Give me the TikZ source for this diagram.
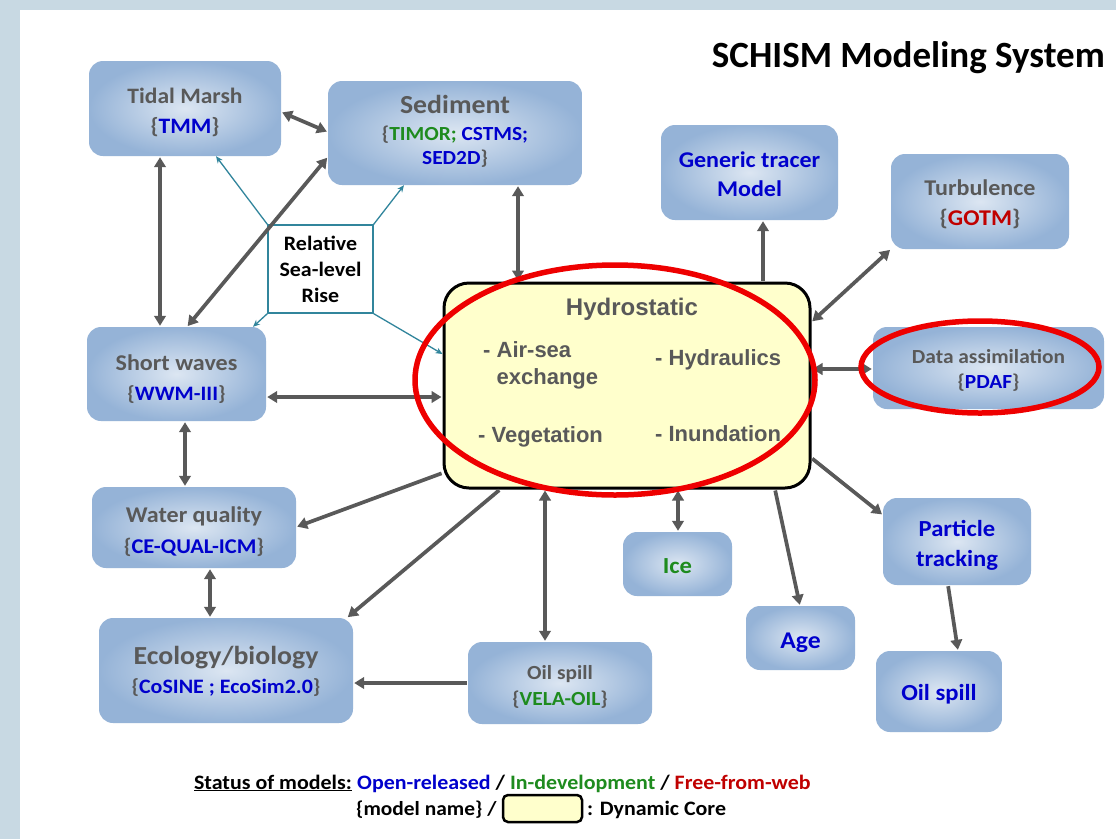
\documentclass[tikz,border=0pt]{standalone}
\usepackage{fontspec}
\setmainfont{Carlito}[FakeStretch=1.07]
\newfontfamily\ttl{Carlito}
\newfontfamily\arl{Liberation Sans}
\usetikzlibrary{arrows.meta,calc}
\definecolor{bg}{HTML}{C8D9E3}
\definecolor{boxin}{HTML}{DCE6F2}
\definecolor{boxout}{HTML}{95B3D7}
\definecolor{tgray}{HTML}{595959}
\definecolor{mblue}{HTML}{0000CC}
\definecolor{mgreen}{HTML}{1E8B1E}
\definecolor{mred}{HTML}{C00000}
\definecolor{agray}{HTML}{595959}
\definecolor{teal2}{HTML}{31859C}
\definecolor{coref}{HTML}{FFFFCC}
\definecolor{ringc}{HTML}{EE0000}
\newcommand\fs[2]{\fontsize{#1}{#2}\selectfont}
\begin{document}
\begin{tikzpicture}[x=1pt,y=-1pt,
 mbox/.style={rounded corners=14pt, inner color=boxin, outer color=boxout, inner sep=0pt},
 lbl/.style={align=center, text=tgray, inner sep=0pt},
 conn/.style={draw=agray, line width=3.7pt, shorten >=1pt, shorten <=1pt},
 dbl/.style={conn, {Triangle[length=10pt,width=11.5pt]}-{Triangle[length=10pt,width=11.5pt]}},
 sgl/.style={conn, -{Triangle[length=10pt,width=11.5pt]}},
 slr/.style={draw=teal2, line width=1.3pt, -{Stealth[length=7pt,width=6pt]}},
 ringe/.style={draw=ringc, line width=5.5pt},
 txt/.style={inner sep=0pt, font=\arl\bfseries\fs{22}{27}, text=tgray, align=left},
 leg/.style={inner sep=0pt, font=\bfseries\fs{20.5}{24}, text=black}
]
\useasboundingbox (0,0) rectangle (1116,839);
\fill[bg] (0,0) rectangle (1116,839);
\fill[white] (20,10) rectangle (1116,839);

\node[font=\ttl\bfseries\fs{37}{40}, anchor=east, inner sep=0pt] (title) at (1105,58) {SCHISM Modeling System};

% boxes
\node[mbox, minimum width=192pt, minimum height=95pt] (tm) at (185,108.5) {};
\node[mbox, minimum width=254pt, minimum height=104pt] (sed) at (455,133) {};
\node[mbox, minimum width=177pt, minimum height=95pt] (gen) at (749.5,172.5) {};
\node[mbox, minimum width=178pt, minimum height=95pt] (turb) at (980,201.5) {};
\node[mbox, minimum width=231pt, minimum height=82pt] (da) at (988.5,368) {};
\node[mbox, minimum width=179pt, minimum height=94pt] (sw) at (176.5,374) {};
\node[mbox, minimum width=204pt, minimum height=81pt] (wq) at (194,527.5) {};
\node[mbox, minimum width=254pt, minimum height=105pt] (eco) at (226,670.5) {};
\node[mbox, minimum width=184pt, minimum height=82pt] (oil) at (560,683) {};
\node[mbox, minimum width=109pt, minimum height=64pt] (ice) at (677.5,564) {};
\node[mbox, minimum width=109pt, minimum height=64pt] (age) at (800.5,638) {};
\node[mbox, minimum width=148pt, minimum height=87pt] (pt) at (957,541.5) {};
\node[mbox, minimum width=126pt, minimum height=81pt] (oiltwo) at (939,691.5) {};
\node[draw=teal2, line width=1.3pt, fill=white, minimum width=105pt, minimum height=88pt, inner sep=0pt, align=center, font=\bfseries\fs{20.5}{26}] (rslr) at (320.5,269) {Relative\\Sea-level\\Rise};
\node[draw=black, line width=3pt, fill=coref, rounded corners=25pt, minimum width=366pt, minimum height=205pt] (core) at (627,385.5) {};

% box labels
\node[lbl, font=\bfseries\fs{22}{30}] (tmt) at ([yshift=-4pt]tm.center) {Tidal Marsh\\\{\textcolor{mblue}{TMM}\}};
\node[lbl, font=\bfseries\fs{20}{24}] (sedt) at ([yshift=1.5pt]sed.center) {{\fs{26}{30}Sediment}\\[3pt]\{\textcolor{mgreen}{TIMOR;} \textcolor{mblue}{CSTMS;}\\\textcolor{mblue}{SED2D}\}};
\node[lbl, font=\bfseries\fs{22.5}{29}, text=mblue] (gent) at ([yshift=-2pt]gen.center) {Generic tracer\\Model};
\node[lbl, font=\bfseries\fs{22.5}{30}] (turbt) at ([yshift=-3pt]turb.center) {Turbulence\\\{\textcolor{mred}{GOTM}\}};
\node[lbl, font=\bfseries\fs{20}{25}] (dat) at ([yshift=-2pt]da.center) {Data assimilation\\\{\textcolor{mblue}{PDAF}\}};
\node[lbl, font=\bfseries\fs{22.5}{30}] (swt) at ([yshift=-5pt]sw.center) {Short waves\\{\fs{20.5}{30}\{\textcolor{mblue}{WWM-III}\}}};
\node[lbl, font=\bfseries\fs{22.5}{31}] (wqt) at ([yshift=-4pt]wq.center) {Water quality\\{\fs{21}{31}\{\textcolor{mblue}{CE-QUAL-ICM}\}}};
\node[lbl, font=\bfseries\fs{20.5}{29}] (ecot) at ([yshift=-0.5pt]eco.center) {{\fs{26}{30}Ecology/biology}\\\{\textcolor{mblue}{CoSINE ; EcoSim2.0}\}};
\node[lbl, font=\bfseries\fs{20}{26}] (oilt) at ([yshift=-3.5pt]oil.center) {Oil spill\\\{\textcolor{mgreen}{VELA-OIL}\}};
\node[lbl, font=\bfseries\fs{23}{28}, text=mgreen] (icet) at ([yshift=-2pt]ice.center) {Ice};
\node[lbl, font=\bfseries\fs{24}{28}, text=mblue] (aget) at ([yshift=-5pt]age.center) {Age};
\node[lbl, font=\bfseries\fs{23}{30}, text=mblue] (ptt) at ([yshift=-4pt]pt.center) {Particle\\tracking};
\node[lbl, font=\bfseries\fs{23}{28}, text=mblue] (oiltwot) at ([yshift=-3pt]oiltwo.center) {Oil spill};

% core texts
\node[txt, font=\arl\bfseries\fs{24}{27}] (hyd) at (632,309) {Hydrostatic};
\node[txt, anchor=west] (air) at (483,365.5) {- Air-sea\\\phantom{- }exchange};
\node[txt, anchor=west] (hydr) at (655,360) {- Hydraulics};
\node[txt, anchor=west] (veg) at (478,437) {- Vegetation};
\node[txt, anchor=west] (inun) at (655,434) {- Inundation};

% sea level rise arrows
\draw[slr] (rslr.north west) -- (tm.south -| 216,0);
\draw[slr] (rslr.north east) -- (sed.south -| 404,0);
\draw[slr] (rslr.south west) -- (sw.north -| 253,0);
\draw[slr] (rslr.south east) -- (core.west |- 0,354);

% connectors
\draw[dbl] ([yshift=-3.5pt]tm.east) -- ([yshift=1pt]sed.west);
\draw[dbl] (tm.south -| 160,0) -- (sw.north -| 160,0);
\draw[dbl] (sw.north -| 187,0) -- (sed.west |- 0,157);
\draw[dbl] (sed.south -| 518,0) -- (core.north -| 518,0);
\draw[dbl] (sw.east |- 0,397) -- (core.west |- 0,397);
\draw[dbl] (sw.south -| 185,0) -- (wq.north -| 185,0);
\draw[dbl] (wq.south -| 210,0) -- (eco.north -| 210,0);
\draw[sgl] (core.west |- 0,473) -- (wq.east |- 0,527);
\draw[sgl] (core.south -| 500,0) -- (eco.north -| 347,0);
\draw[sgl] (oil.west) -- (eco.east |- oil.west);
\draw[dbl] (core.south -| 545,0) -- (oil.north -| 545,0);
\draw[dbl] (core.south -| 678,0) -- (ice.north -| 678,0);
\draw[sgl] (core.south -| 775,0) -- (age.north -| 800,0);
\draw[sgl] (core.east |- 0,458) -- (pt.west |- 0,515);
\draw[sgl] (pt.south -| 948,0) -- (oiltwo.north -| 958,0);
\draw[sgl] (core.north -| 763,0) -- (gen.south -| 763,0);
\draw[dbl] (core.east |- 0,322) -- (turb.south west);
\draw[dbl] (core.east |- 0,369) -- (da.west |- 0,369);

% highlight rings
\draw[ringe] (615,380) ellipse [x radius=200pt, y radius=115pt];
\draw[ringe] (980,367) ellipse [x radius=119pt, y radius=46pt];

% legend
\node[leg, anchor=base east] (st) at (352,789) {\underline{Status of models:}};
\node[leg, anchor=base west] (lone) at (357,789) {\textcolor{mblue}{Open-released} / \textcolor{mgreen}{In-development} / \textcolor{mred}{Free-from-web}};
\node[leg, anchor=base west, font=\bfseries\fs{20}{24}] (ltwo) at (356,815) {\{model name\} /};
\node[draw=black, line width=2.5pt, fill=coref, rounded corners=5pt, minimum width=79pt, minimum height=27pt, inner sep=0pt] (lbox) at (542.5,808.5) {};
\node[leg, anchor=base west] (lthree) at (587,815) {: Dynamic Core};
\end{tikzpicture}
\end{document}
